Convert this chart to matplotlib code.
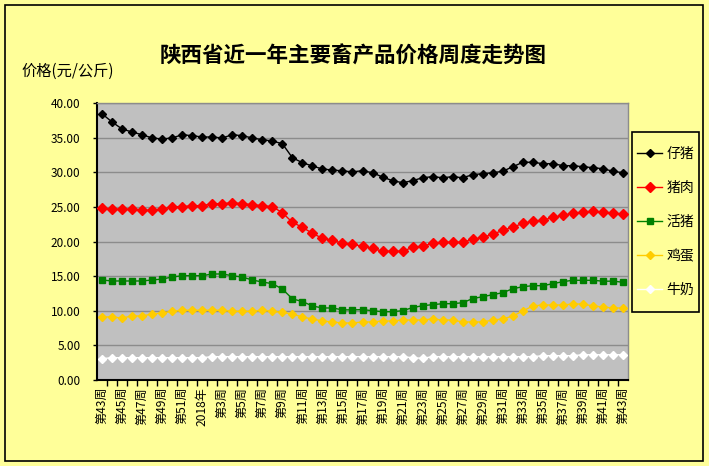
import matplotlib
matplotlib.use('Agg')
import matplotlib.pyplot as plt
from matplotlib.patches import Rectangle
from matplotlib.ticker import FormatStrFormatter
import numpy as np

plt.rcParams['font.family'] = ['Noto Sans CJK SC', 'DejaVu Sans']

# ---- data ----
weeks = ([f'第{w}周' for w in range(43, 53)] + ['2018年'] +
         [f'第{w}周' for w in range(2, 44)])

zaizhu = [38.45, 37.26, 36.25, 35.81, 35.42, 34.95, 34.80, 34.95, 35.42, 35.28,
          35.09, 35.09, 34.95, 35.42, 35.28, 34.95, 34.70, 34.51, 34.12, 32.10,
          31.38, 30.90, 30.47, 30.32, 30.20, 30.06, 30.22, 29.93, 29.31, 28.78,
          28.49, 28.78, 29.21, 29.36, 29.21, 29.36, 29.21, 29.65, 29.79, 29.93,
          30.14, 30.80, 31.44, 31.44, 31.24, 31.24, 30.95, 30.95, 30.80, 30.66,
          30.51, 30.14, 29.93]

zhurou = [24.79, 24.65, 24.65, 24.65, 24.50, 24.50, 24.65, 25.03, 25.03, 25.17,
          25.17, 25.46, 25.46, 25.60, 25.46, 25.32, 25.17, 25.03, 24.16, 22.77,
          22.05, 21.18, 20.46, 20.17, 19.74, 19.59, 19.31, 19.02, 18.58, 18.58,
          18.58, 19.16, 19.31, 19.74, 19.88, 19.88, 19.88, 20.32, 20.60, 21.04,
          21.62, 22.05, 22.63, 22.92, 23.06, 23.49, 23.78, 24.07, 24.22, 24.36,
          24.22, 24.07, 23.93]

huozhu = [14.44, 14.30, 14.30, 14.30, 14.30, 14.44, 14.58, 14.87, 15.06, 15.06,
          15.06, 15.31, 15.31, 15.06, 14.87, 14.44, 14.15, 13.91, 13.14, 11.72,
          11.33, 10.69, 10.40, 10.40, 10.13, 10.13, 10.16, 10.01, 9.86, 9.86,
          10.01, 10.45, 10.73, 10.88, 11.02, 11.02, 11.16, 11.76, 12.03, 12.32,
          12.61, 13.18, 13.47, 13.62, 13.62, 13.91, 14.20, 14.40, 14.40, 14.40,
          14.27, 14.27, 14.12]

jidan = [9.10, 9.10, 8.95, 9.24, 9.24, 9.53, 9.68, 9.92, 10.06, 10.06,
         10.06, 10.06, 10.06, 9.92, 9.92, 9.92, 10.06, 9.92, 9.77, 9.53,
         9.10, 8.81, 8.52, 8.38, 8.23, 8.23, 8.38, 8.38, 8.52, 8.52,
         8.66, 8.66, 8.66, 8.81, 8.66, 8.66, 8.38, 8.38, 8.38, 8.66,
         8.81, 9.24, 9.96, 10.69, 10.83, 10.83, 10.83, 10.97, 10.97, 10.69,
         10.54, 10.40, 10.40]

niunai = [3.08, 3.22, 3.22, 3.22, 3.22, 3.22, 3.22, 3.22, 3.22, 3.22,
          3.22, 3.37, 3.37, 3.37, 3.37, 3.37, 3.37, 3.37, 3.37, 3.37,
          3.37, 3.37, 3.37, 3.37, 3.37, 3.37, 3.37, 3.37, 3.37, 3.37,
          3.37, 3.22, 3.13, 3.37, 3.37, 3.37, 3.37, 3.37, 3.37, 3.37,
          3.37, 3.37, 3.37, 3.37, 3.51, 3.51, 3.51, 3.51, 3.65, 3.65,
          3.65, 3.65, 3.65]

series_names = ['仔猪', '猪肉', '活猪', '鸡蛋', '牛奶']
yticks = [0, 5, 10, 15, 20, 25, 30, 35, 40]

# ---- figure ----
W, H = 709, 466
fig = plt.figure(figsize=(W / 100, H / 100), dpi=100)
fig.patch.set_facecolor('#FFFF99')

# outer border
fig.patches.append(Rectangle((5 / W, 1 - 461 / H), 698 / W, 456 / H,
                             transform=fig.transFigure, fill=False,
                             edgecolor='black', lw=1.2, zorder=0))

ax = fig.add_axes([97 / W, 1 - 380 / H, (628 - 97) / W, (380 - 103) / H])
ax.set_facecolor('#C0C0C0')

x = np.arange(len(weeks))
styles = [
    dict(color='black', marker='D', ms=4.2, mfc='black', mec='black'),
    dict(color='#FF0000', marker='D', ms=4.6, mfc='#FF0000', mec='#FF0000'),
    dict(color='#008000', marker='s', ms=4.6, mfc='#008000', mec='#008000'),
    dict(color='#FFCC00', marker='D', ms=4.2, mfc='#FFCC00', mec='#FFCC00'),
    dict(color='white', marker='D', ms=3.8, mfc='white', mec='white'),
]
handles = []
for vals, name, st in zip([zaizhu, zhurou, huozhu, jidan, niunai], series_names, styles):
    h, = ax.plot(x, vals, lw=1.0, label=name, zorder=3, **st)
    handles.append(h)

ax.set_xlim(-0.5, len(weeks) - 0.5)
ax.set_ylim(0, 40)
ax.set_yticks(yticks)
ax.yaxis.set_major_formatter(FormatStrFormatter('%.2f'))
ax.yaxis.grid(True, color='#8c8c8c', lw=1)
ax.set_axisbelow(True)

ax.set_xticks(x[::2])
ax.set_xticklabels(weeks[::2], rotation=90, fontsize=8.7)
ax.set_xticks(np.arange(0.5, len(weeks) - 1, 1), minor=True)
ax.tick_params(axis='x', which='major', length=0, pad=5)
ax.tick_params(axis='x', which='minor', length=4, width=1, direction='out', color='black')
ax.tick_params(axis='y', length=3, width=1, direction='out', pad=9, labelsize=8.5)

for s in ['left', 'bottom']:
    ax.spines[s].set_color('black')
    ax.spines[s].set_linewidth(1.5)
for s in ['top', 'right']:
    ax.spines[s].set_color('#8c8c8c')
    ax.spines[s].set_linewidth(1)

fig.text(353.5 / W, 1 - 56 / H, '陕西省近一年主要畜产品价格周度走势图',
         ha='center', va='center', fontsize=15.5, fontweight='bold')
fig.text(21 / W, 1 - 71 / H, '价格(元/公斤)', ha='left', va='center', fontsize=11)

# legend box
fig.patches.append(Rectangle((632 / W, 1 - 312 / H), 67 / W, 180 / H,
                             transform=fig.transFigure, fill=True,
                             facecolor='#FFFF99', edgecolor='black', lw=1.2, zorder=1))
leg = fig.legend(handles=handles, loc='center', bbox_to_anchor=(665.5 / W, 1 - 222 / H),
                 frameon=False, fontsize=10, numpoints=1, handlelength=1.8,
                 handletextpad=0.3, labelspacing=1.45, borderpad=0)
leg.set_zorder(2)

fig.savefig('out.png', dpi=100, facecolor=fig.get_facecolor())
